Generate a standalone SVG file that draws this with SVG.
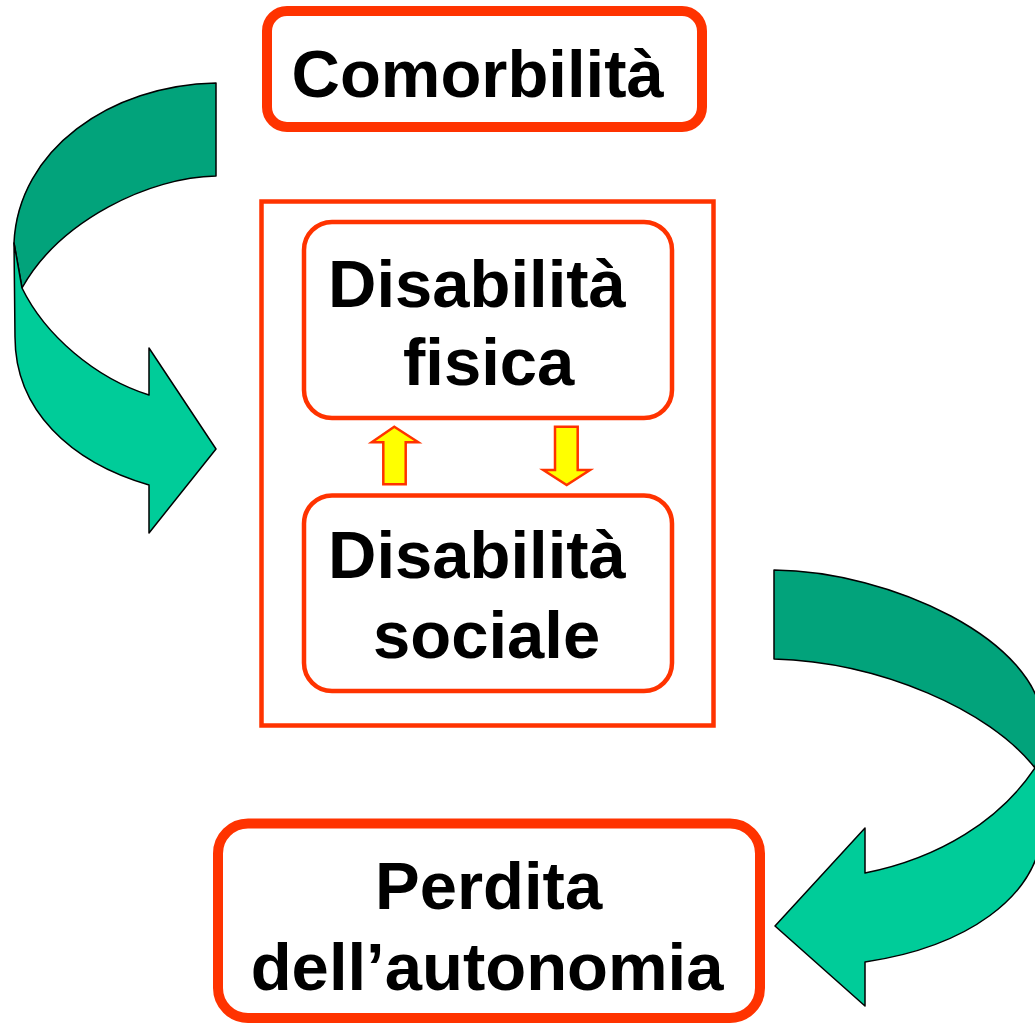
<svg xmlns="http://www.w3.org/2000/svg" width="1035" height="1025" viewBox="0 0 1035 1025">
<style>
.t{font-family:"Liberation Sans",Arial,sans-serif;font-weight:bold;font-size:67px;fill:#000}
.dk{fill:#02A37B;stroke:#000;stroke-width:1.5;stroke-linejoin:round}
.lt{fill:#00CC99;stroke:#000;stroke-width:1.5;stroke-linejoin:round}
.ya{fill:#FFFF00;stroke:#FF3300;stroke-width:2.5;stroke-linejoin:miter}
</style>
<rect width="1035" height="1025" fill="#fff"/>
<g id="connectors">
  <g id="arrow-left">
    <path class="dk" d="M216,83 C110,85 18,150 14,243 L22,288 C60,220 150,177 216,176 Z"/>
    <path class="lt" d="M14,243 L22,288 C45,335 95,378 149,395 L149,348 L216,449 L149,533 L149,485 C70,462 15,410 15,337 Z"/>
  </g>
  <g id="arrow-right">
    <path class="dk" d="M774,570 C890,571 1040,640 1043,725 L1035,768 C990,710 880,662 774,659 Z"/>
    <path class="lt" d="M1043,725 L1035,768 C1000,820 940,858 865,873 L865,828 L775,926 L865,1006 L865,962 C960,948 1043,900 1043,820 Z"/>
  </g>
  <path id="arrow-up" class="ya" d="M394.3,426.7 L418.3,442.3 L405.7,442.3 L405.7,484.3 L383.3,484.3 L383.3,442.3 L371.7,442.3 Z"/>
  <path id="arrow-down" class="ya" d="M555,426.7 L577.7,426.7 L577.7,470 L590,470 L566.7,485 L543.3,470 L555,470 Z"/>
</g>
<g id="node-comorbilita">
  <rect x="267" y="11" width="435" height="116" rx="20" fill="#fff" stroke="#FF3300" stroke-width="10"/>
  <text class="t" x="291.5" y="97">Comorbilità</text>
</g>
<g id="group-disabilita">
  <rect x="261.5" y="201.5" width="452" height="524" fill="none" stroke="#FF3300" stroke-width="4.5"/>
</g>
<g id="node-fisica">
  <rect x="304" y="222" width="368" height="196" rx="28" fill="#fff" stroke="#FF3300" stroke-width="4.5"/>
  <text class="t" x="328" y="306.7">Disabilità</text>
  <text class="t" x="403" y="385">fisica</text>
</g>
<g id="node-sociale">
  <rect x="304" y="495.5" width="368" height="195.5" rx="28" fill="#fff" stroke="#FF3300" stroke-width="4.5"/>
  <text class="t" x="328" y="578">Disabilità</text>
  <text class="t" x="373" y="658">sociale</text>
</g>
<g id="node-perdita">
  <rect x="218" y="823.5" width="542" height="194.5" rx="30" fill="#fff" stroke="#FF3300" stroke-width="10"/>
  <text class="t" x="375" y="909.3">Perdita</text>
  <text class="t" x="250.7" y="990">dell’autonomia</text>
</g>
</svg>
